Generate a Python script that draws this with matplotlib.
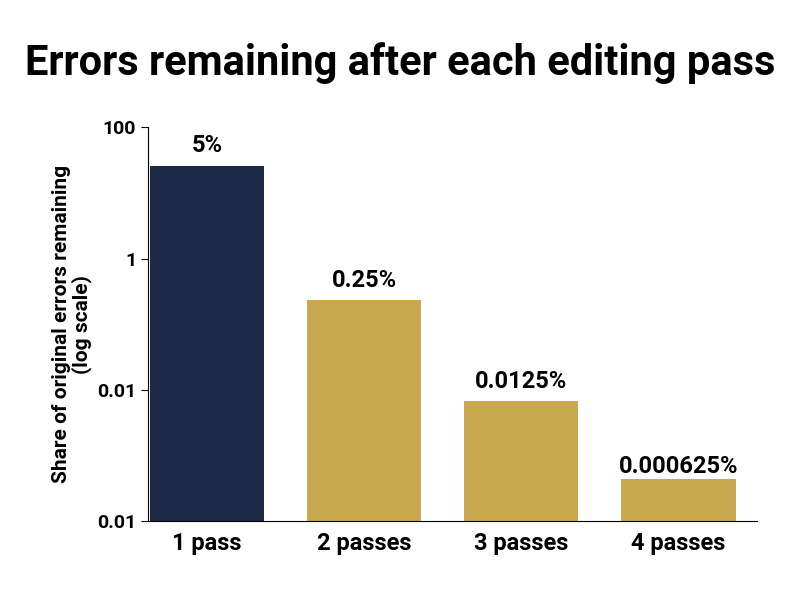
import matplotlib
matplotlib.use("Agg")
import matplotlib.pyplot as plt

categories = ["1 pass", "2 passes", "3 passes", "4 passes"]
values = [26, 0.23, 0.0067, 0.00034]
labels = ["5%", "0.25%", "0.0125%", "0.000625%"]
tick_vals = [100, 1, 0.01, 0.0001]
tick_labels = ["100", "1", "0.01", "0.01"]
colors = ["#1c2a48", "#c9a94f", "#c9a94f", "#c9a94f"]

plt.rcParams['font.family'] = ['Roboto', 'DejaVu Sans']
fig = plt.figure(figsize=(8, 5.97), dpi=100)
ax = fig.add_axes([0.185, 0.127, 0.761, 0.66])
x = range(len(categories))
ax.bar(x, values, width=0.73, color=colors, bottom=1e-4)
ax.set_yscale("log")
ax.set_ylim(1e-4, 100)
ax.set_xlim(-0.375, 3.5)
ax.set_yticks(tick_vals)
ax.set_yticklabels(tick_labels)
ax.minorticks_off()
ax.set_xticks(list(x))
ax.set_xticklabels(categories)
for t in ax.get_xticklabels():
    t.set_fontsize(17); t.set_fontweight("bold")
for t in ax.get_yticklabels():
    t.set_fontsize(14); t.set_fontweight("bold")
ax.tick_params(axis='x', length=0, pad=8)
ax.tick_params(axis='y', length=5)
for s in ["top", "right"]:
    ax.spines[s].set_visible(False)
for i, (v, l) in enumerate(zip(values, labels)):
    ax.annotate(l, (i, v), xytext=(0, 6), textcoords="offset points",
                ha="center", va="bottom", fontsize=17, fontweight="bold")
ax.set_ylabel("Share of original errors remaining\n(log scale)", fontsize=15, fontweight="bold", linespacing=1.0)
fig.text(0.5, 0.895, "Errors remaining after each editing pass", ha="center", va="center",
         fontsize=30, fontweight="bold")
fig.savefig("out.png", dpi=100)
